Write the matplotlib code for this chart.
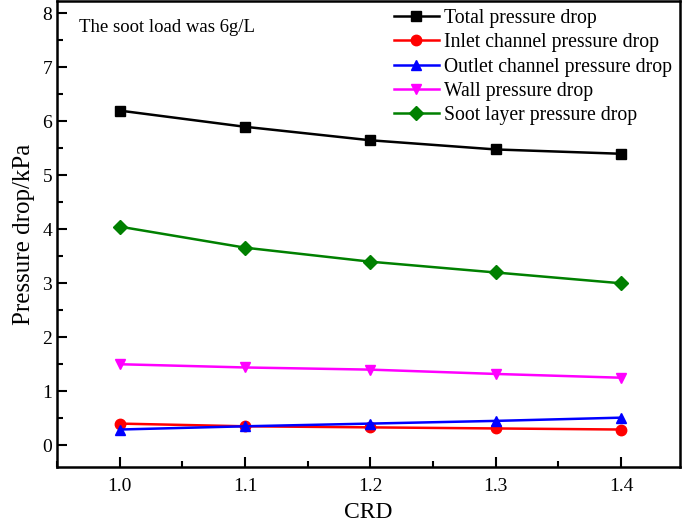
import matplotlib
matplotlib.use("Agg")
import matplotlib.pyplot as plt
from matplotlib.ticker import MultipleLocator

crd = [1.0, 1.1, 1.2, 1.3, 1.4]
total = [6.2, 5.9, 5.65, 5.48, 5.4]
inlet = [0.40, 0.35, 0.33, 0.31, 0.29]
outlet = [0.29, 0.35, 0.40, 0.45, 0.51]
wall = [1.50, 1.44, 1.40, 1.32, 1.25]
soot = [4.05, 3.66, 3.40, 3.20, 3.00]

labels = ["Total pressure drop", "Inlet channel pressure drop",
          "Outlet channel pressure drop", "Wall pressure drop",
          "Soot layer pressure drop"]
colors = ["black", "red", "blue", "magenta", "green"]
markers = ["s", "o", "^", "v", "D"]
series = [total, inlet, outlet, wall, soot]

plt.rcParams['font.family'] = ['Liberation Serif', 'DejaVu Serif']

fig = plt.figure(figsize=(6.85, 5.23), dpi=100)
ax = fig.add_axes([0.0832, 0.1065, 0.9095, 0.8915])

for y, lab, c, m in zip(series, labels, colors, markers):
    ms = 7.5 if m != "D" else 7
    ax.plot(crd, y, color=c, marker=m, markersize=ms, linewidth=1.8, label=lab)

ax.set_xlim(0.95, 1.447)
ax.set_ylim(-0.41, 8.23)
ax.xaxis.set_minor_locator(MultipleLocator(0.05))
ax.yaxis.set_major_locator(MultipleLocator(1))
ax.yaxis.set_minor_locator(MultipleLocator(0.5))
ax.set_xticks(crd)
ax.set_xticklabels(["1.0", "1.1", "1.2", "1.3", "1.4"])
ax.tick_params(which='both', direction='in', labelsize=14, width=1.5)
ax.tick_params(which='major', length=7)
ax.tick_params(which='minor', length=4)
ax.tick_params(axis='x', pad=8)
for s in ax.spines.values():
    s.set_linewidth(1.8)

ax.set_xlabel("CRD", fontsize=17, labelpad=5)
ax.set_ylabel("Pressure drop/kPa", fontsize=18, labelpad=5)

ax.text(0.035, 0.962, "The soot load was 6g/L", transform=ax.transAxes,
        fontsize=13.5, va='top', ha='left')

leg = ax.legend(loc='upper right', frameon=False, fontsize=14.2,
                handlelength=2.3, handletextpad=0.25, labelspacing=0.27,
                borderaxespad=0.0, bbox_to_anchor=(1.0, 1.0))

fig.savefig("out.png", dpi=100)
